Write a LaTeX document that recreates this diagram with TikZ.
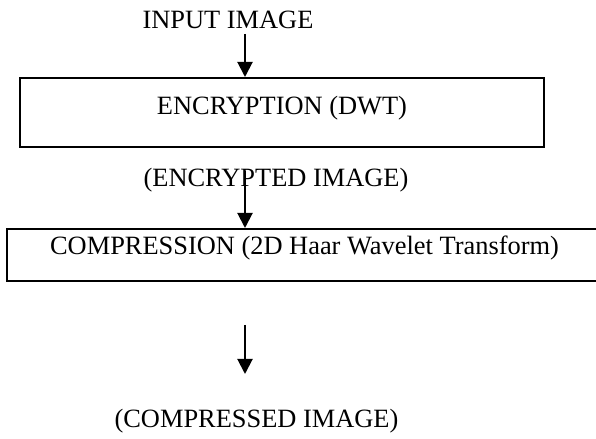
\documentclass[tikz,border=0pt]{standalone}
\usepackage{fontspec}
\setmainfont{Liberation Serif}
\usetikzlibrary{arrows.meta}

\tikzset{
  lbl/.style={font=\fontsize{13.25pt}{16pt}\selectfont, inner sep=0pt, anchor=base},
  stage/.style={draw, line width=1bp, inner sep=0pt, text height=9.2pt, font=\fontsize{13.25pt}{16pt}\selectfont},
  flow/.style={line width=1bp, -{Triangle[width=7.5bp,length=7.5bp]}}
}

\begin{document}
\begin{tikzpicture}[x=0.5bp, y=-0.5bp]
		%%%%% START %%%%%
		\useasboundingbox (0, 0) rectangle (596, 439);
		
		\node[lbl] (inp) at (228, 29) {INPUT IMAGE};
		\node[stage, text depth=6.7pt, minimum width=262bp, minimum height=34.5bp] (enc) at (282, 112.5) {ENCRYPTION (DWT)};
		
		\node[lbl] (encd) at (276, 187) {(ENCRYPTED IMAGE)};
		\node[stage, text depth=9.7pt, minimum width=297.5bp, minimum height=26bp] (comp) at (304.5, 255) {COMPRESSION (2D Haar Wavelet Transform)};
		
		\node[lbl] (compd) at (256.5, 427) {(COMPRESSED IMAGE)};
		
		\coordinate (a1) at (245, 34);
		\coordinate (a2) at (245, 171);
		\coordinate (a3) at (245, 325);
		\coordinate (a3e) at (245, 374);
		
		\draw[flow] (a1) -- (a1 |- enc.north);
		\draw[flow] (a2) -- (a2 |- comp.north);
		\draw[flow] (a3) -- (a3e);
		
		%%%%% END %%%%%
\end{tikzpicture}
\end{document}
